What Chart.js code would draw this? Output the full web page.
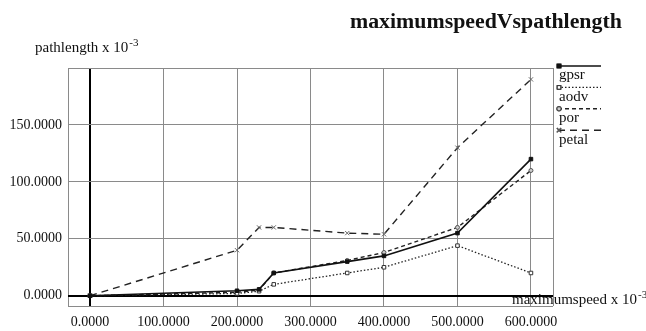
<!DOCTYPE html>
<html>
<head>
<meta charset="utf-8">
<script src="https://cdn.jsdelivr.net/npm/chart.js@4.4.1/dist/chart.umd.min.js"></script>
<style>
  html, body { margin: 0; padding: 0; background: #fff; }
  #wrap { width: 646px; height: 331px; }
</style>
</head>
<body>
<div id="wrap"><canvas id="c" width="646" height="331"></canvas></div>
<script>
const titleText = 'maximumspeedVspathlength';
const yTitle = 'pathlength x 10';
const xTitle = 'maximumspeed x 10';
const exponent = '-3';

const speeds = [0, 200, 230, 250, 350, 400, 500, 600];
const gpsr  = [0, 4.4, 5.6, 20, 30, 35, 55, 120];
const aodv  = [0, 2, 4, 10, 20, 25, 44, 20];
const por   = [0, 3, 5, 20, 31, 38, 60, 110];
const petal = [0, 40, 60, 60, 55, 54, 130, 190];

const seriesNames = ['gpsr', 'aodv', 'por', 'petal'];
const xTicks = [0, 100, 200, 300, 400, 500, 600];
const yTicks = [0, 50, 100, 150];
const xMin = -30, xMax = 630, yMin = -9, yMax = 200;

const SERIF = "'Liberation Serif', 'DejaVu Serif', serif";

function pts(ys) { return speeds.map((x, i) => ({ x: x, y: ys[i] })); }

const styles = [
  { borderColor: '#111', borderWidth: 1.6, borderDash: [], pointStyle: 'rect', pointRadius: 2.5, pointBackgroundColor: '#111', pointBorderColor: '#111' },
  { borderColor: '#222', borderWidth: 1.3, borderDash: [1.5, 2], pointStyle: 'rect', pointRadius: 2.5, pointBackgroundColor: '#fff', pointBorderColor: '#333' },
  { borderColor: '#222', borderWidth: 1.4, borderDash: [4, 3], pointStyle: 'circle', pointRadius: 2, pointBackgroundColor: '#ccc', pointBorderColor: '#555' },
  { borderColor: '#222', borderWidth: 1.4, borderDash: [7, 5], pointStyle: 'crossRot', pointRadius: 3, pointBackgroundColor: '#666', pointBorderColor: '#666' }
];
const seriesData = [gpsr, aodv, por, petal];

const datasets = seriesNames.map((n, i) => Object.assign({
  label: n,
  data: pts(seriesData[i]),
  fill: false,
  tension: 0,
  pointBorderWidth: 1
}, styles[i]));

function drawSup(ctx, text, x, y, size, supSize) {
  ctx.font = size + 'px ' + SERIF;
  ctx.textBaseline = 'middle';
  ctx.textAlign = 'left';
  ctx.fillText(text, x, y);
  const w = ctx.measureText(text).width;
  ctx.font = supSize + 'px ' + SERIF;
  ctx.fillText(exponent, x + w + 1, y - 5);
}

const decor = {
  id: 'decor',
  afterDraw(chart) {
    const ctx = chart.ctx;
    ctx.save();
    ctx.fillStyle = '#111';
    // title
    ctx.font = 'bold 22px ' + SERIF;
    const tw = ctx.measureText(titleText).width;
    const size = 22 * 272 / tw;
    ctx.font = 'bold ' + size.toFixed(2) + 'px ' + SERIF;
    ctx.textBaseline = 'middle';
    ctx.textAlign = 'left';
    ctx.fillText(titleText, 350, 22);
    // axis titles
    drawSup(ctx, yTitle, 35, 48, 15, 11);
    drawSup(ctx, xTitle, 512, 300, 15, 11);
    // legend
    chart.data.datasets.forEach((ds, i) => {
      const ly = 66 + i * 21.4;
      ctx.save();
      ctx.strokeStyle = ds.borderColor;
      ctx.lineWidth = ds.borderWidth;
      ctx.setLineDash(ds.borderDash || []);
      ctx.beginPath();
      ctx.moveTo(558, ly);
      ctx.lineTo(601, ly);
      ctx.stroke();
      ctx.setLineDash([]);
      Chart.helpers.drawPoint(ctx, {
        pointStyle: ds.pointStyle, radius: ds.pointRadius, rotation: 0, borderWidth: 1
      }, 559, ly);
      ctx.restore();
      ctx.save();
      ctx.fillStyle = ds.pointBackgroundColor;
      ctx.strokeStyle = ds.pointBorderColor;
      ctx.lineWidth = 1;
      Chart.helpers.drawPoint(ctx, { pointStyle: ds.pointStyle, radius: ds.pointRadius, rotation: 0, borderWidth: 1 }, 559, ly);
      ctx.restore();
      ctx.fillStyle = '#111';
      ctx.font = '15px ' + SERIF;
      ctx.textBaseline = 'middle';
      ctx.textAlign = 'left';
      ctx.fillText(ds.label, 559, ly + 9.5);
    });
    ctx.restore();
  }
};

new Chart(document.getElementById('c'), {
  type: 'line',
  data: { datasets: datasets },
  plugins: [decor],
  options: {
    responsive: false,
    animation: false,
    devicePixelRatio: 1,
    layout: { padding: { left: 0, right: 93, top: 68, bottom: 0 } },
    plugins: { legend: { display: false }, title: { display: false }, tooltip: { enabled: false } },
    scales: {
      x: {
        type: 'linear',
        min: xMin, max: xMax,
        afterFit(s) { s.height = 25; },
        afterBuildTicks(s) { s.ticks = [xMin].concat(xTicks, [xMax]).map(v => ({ value: v })); },
        border: { display: false },
        grid: {
          drawTicks: false,
          color: c => c.tick && c.tick.value === 0 ? '#000' : '#8a8a8a',
          lineWidth: c => c.tick && c.tick.value === 0 ? 2 : 1
        },
        ticks: {
          autoSkip: false, maxRotation: 0, padding: 8, color: '#111',
          font: { family: SERIF, size: 14 },
          callback: v => xTicks.includes(v) ? v.toFixed(4) : ''
        }
      },
      y: {
        min: yMin, max: yMax,
        afterFit(s) { s.width = 68; },
        afterBuildTicks(s) { s.ticks = [yMin].concat(yTicks, [yMax]).map(v => ({ value: v })); },
        border: { display: false },
        grid: {
          drawTicks: false,
          color: c => c.tick && c.tick.value === 0 ? '#000' : '#8a8a8a',
          lineWidth: c => c.tick && c.tick.value === 0 ? 2 : 1
        },
        ticks: {
          autoSkip: false, padding: 6, color: '#111',
          font: { family: SERIF, size: 14 },
          callback: v => yTicks.includes(v) ? v.toFixed(4) : ''
        }
      }
    }
  }
});
</script>
</body>
</html>
